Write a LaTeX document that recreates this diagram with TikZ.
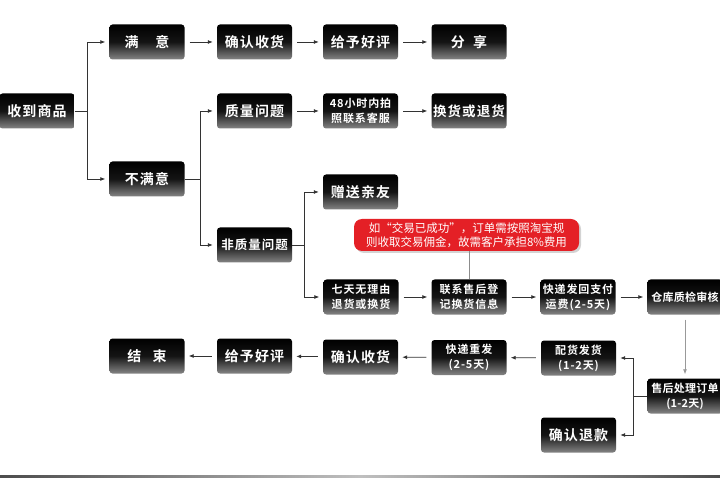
\documentclass[tikz,border=0pt]{standalone}
\usepackage{fontspec}
\usetikzlibrary{arrows.meta}
\usetikzlibrary{shadows}
\newfontfamily\boxfont{Noto Sans CJK SC Bold}[LetterSpace=8]
\newfontfamily\edgefont{Noto Sans CJK SC Bold}[LetterSpace=2]
\newfontfamily\notefont{Noto Sans CJK SC}
\definecolor{notered}{RGB}{228,32,38}
\tikzset{
 box/.style={rounded corners=3pt,minimum width=75pt,minimum height=35pt,inner sep=1pt,
  top color=black,bottom color=black!48,middle color=black!92,text=white,align=center,
  font=\boxfont\fontsize{14}{16}\selectfont},
 small/.style={font=\boxfont\fontsize{11}{15}\selectfont},
 edge/.style={font=\edgefont\fontsize{11}{15}\selectfont},
 callout/.style={rounded corners=8pt,fill=notered,text=white,align=center,
  minimum width=225pt,minimum height=32pt,inner sep=1pt,
  font=\notefont\fontsize{11.5}{14}\selectfont,
  drop shadow={opacity=0.35,shadow xshift=2pt,shadow yshift=-2pt}},
 link/.style={draw=black!80,line width=0.8pt,-{Latex[length=5pt,width=4pt]},shorten >=4pt},
 gap/.style={shorten <=5pt}
}
\begin{document}
\begin{tikzpicture}[x=1pt,y=-1pt]
 \useasboundingbox (0,0) rectangle (720,478);
 \fill[left color=black!70,right color=black!70,middle color=black!25] (0,475) rectangle (720,478);

 \node[box] (recv) at (37,111) {收到商品};
 \node[box] (sat) at (147,42) {满\hspace{1.2em}意};
 \node[box] (conf1) at (254.5,42) {确认收货};
 \node[box] (good1) at (360.5,42) {给予好评};
 \node[box] (share) at (469,42) {分\hspace{.6em}享};
 \node[box] (unsat) at (147,179) {不满意};
 \node[box] (qual) at (254.5,111) {质量问题};
 \node[box,small] (photo) at (360.5,111) {48小时内拍\\照联系客服};
 \node[box,font=\boxfont\fontsize{13.5}{16}\selectfont] (exch) at (469,111) {换货或退货};
 \node[box,small] (nonq) at (254.5,245) {\fontsize{12.5}{15}\selectfont 非质量问题};
 \node[box] (gift) at (360.5,192) {赠送亲友};
 \node[box,small] (seven) at (361,297) {七天无理由\\退货或换货};
 \node[box,small] (reg) at (469,297) {联系售后登\\记换货信息};
 \node[box,small] (ret) at (578,297) {快递发回支付\\运费(2-5天)};
 \node[box,edge] (check) at (685,297) {仓库质检审核};
 \node[box,edge] (after) at (685,396) {售后处理订单\\(1-2天)};
 \node[box,small] (ship) at (578.5,358) {配货发货\\(1-2天)};
 \node[box] (refund) at (578.5,435) {确认退款};
 \node[box,small] (resend) at (469,357.5) {快递重发\\(2-5天)};
 \node[box] (conf2) at (360.5,357) {确认收货};
 \node[box] (good2) at (254.5,356) {给予好评};
 \node[box] (fin) at (147,356) {结\hspace{.8em}束};
 \node[callout] (note) at (466.5,235) {如“交易已成功”，订单需按照淘宝规\\则收取交易佣金，故需客户承担8\%费用};

 \coordinate (j1) at ([xshift=13pt]recv.east);
 \coordinate (j2) at ([xshift=16pt]unsat.east);
 \coordinate (j3) at ([xshift=12pt]nonq.east);
 \coordinate (j4) at ([xshift=-14pt]after.west);

 \draw[link] (recv.east) -- (j1) |- (sat.west);
 \draw[link] (j1) |- (unsat.west);
 \draw[link] (unsat.east) -- (j2) |- (qual.west);
 \draw[link] (j2) |- (nonq.west);
 \draw[link] (nonq.east) -- (j3) |- (gift.west);
 \draw[link] (j3) |- (seven.west);
 \draw[link] (after.west) -- (j4) |- (ship.east);
 \draw[link] (j4) |- (refund.east);

 \draw[link,gap] (sat) -- (conf1);
 \draw[link,gap] (conf1) -- (good1);
 \draw[link,gap] (good1) -- (share);
 \draw[link,gap] (qual) -- (photo);
 \draw[link,gap] (photo) -- (exch);
 \draw[link,gap] (seven) -- (reg);
 \draw[link,gap] (reg) -- (ret);
 \draw[link,gap] (ret) -- (check);
 \draw[link,gap,draw=black!40] (check) -- (after);
 \draw[link,gap] (ship) -- (resend);
 \draw[link,gap] (resend) -- (conf2);
 \draw[link,gap] (conf2) -- (good2);
 \draw[link,gap] (good2) -- (fin);
 \draw[draw=black!45,line width=0.6pt] (note.south -| reg.north) -- (reg.north);
\end{tikzpicture}
\end{document}
